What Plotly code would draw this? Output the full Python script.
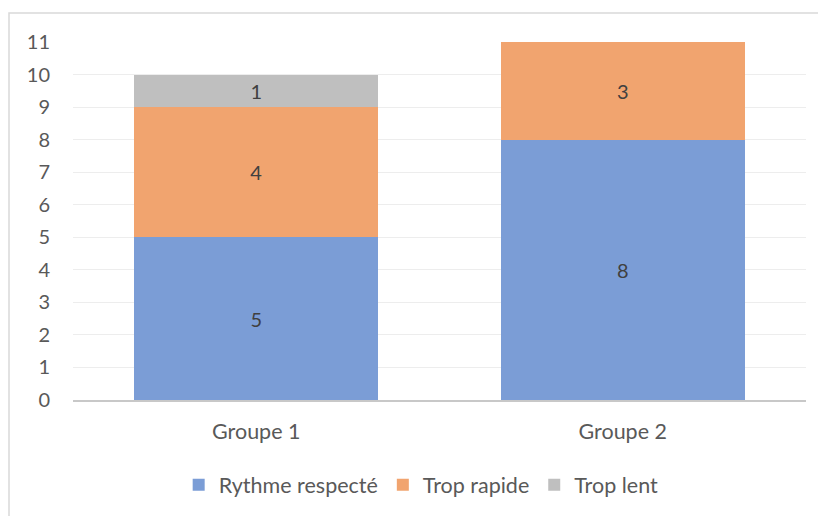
import plotly.graph_objects as go

groups = ["Groupe 1", "Groupe 2"]
rythme_respecte = [5, 8]
trop_rapide = [4, 3]
trop_lent = [1, 0]

series = [
    ("Rythme respecté", rythme_respecte, "#7B9DD6"),
    ("Trop rapide", trop_rapide, "#F1A46F"),
    ("Trop lent", trop_lent, "#BFBFBF"),
]

# the page body adds an 8px offset, so margins are given in figure coords
W, H = 826, 516
L, R, T, B = 65, 28, 34, 124
FONT = "Lato, Liberation Sans, Arial, sans-serif"

fig = go.Figure()
for name, vals, color in series:
    fig.add_trace(
        go.Bar(
            x=groups,
            y=vals,
            name=name,
            marker=dict(color=color, line=dict(width=0)),
            text=[str(v) if v else "" for v in vals],
            textposition="inside",
            insidetextanchor="middle",
            textfont=dict(color="#404040", size=20),
            hoverinfo="skip",
        )
    )

# chart frame: only the top and left edges fall inside the picture
pw, ph = W - L - R, H - T - B
fig.add_shape(
    type="rect", xref="paper", yref="paper",
    x0=(1 - L) / pw, x1=(860 - L) / pw,
    y0=(H - 560 - B) / ph, y1=1 + (T - 5) / ph,
    line=dict(color="#D9D9D9", width=1.5),
    layer="below",
)

fig.update_layout(
    width=W,
    height=H,
    barmode="stack",
    bargap=0.334,
    plot_bgcolor="white",
    paper_bgcolor="white",
    margin=dict(l=L, r=R, t=T, b=B),
    font=dict(family=FONT, size=20, color="#595959"),
    showlegend=True,
    legend=dict(
        orientation="h",
        x=0.475, xanchor="center",
        y=-0.237, yanchor="middle",
        font=dict(size=21.5, color="#595959"),
        itemwidth=30,
        traceorder="normal",
    ),
    xaxis=dict(
        showgrid=False,
        showline=True,
        linecolor="#C8C8C8",
        linewidth=1.5,
        ticks="outside",
        ticklen=11,
        tickcolor="rgba(0,0,0,0)",
        tickfont=dict(size=21.5),
    ),
    yaxis=dict(
        range=[0, 11],
        dtick=1,
        showgrid=True,
        gridcolor="#EDEDED",
        gridwidth=1,
        zeroline=False,
        showline=False,
        ticks="outside",
        ticklen=18,
        tickcolor="rgba(0,0,0,0)",
        tickfont=dict(size=20),
    ),
)

fig.write_html("out.html")
